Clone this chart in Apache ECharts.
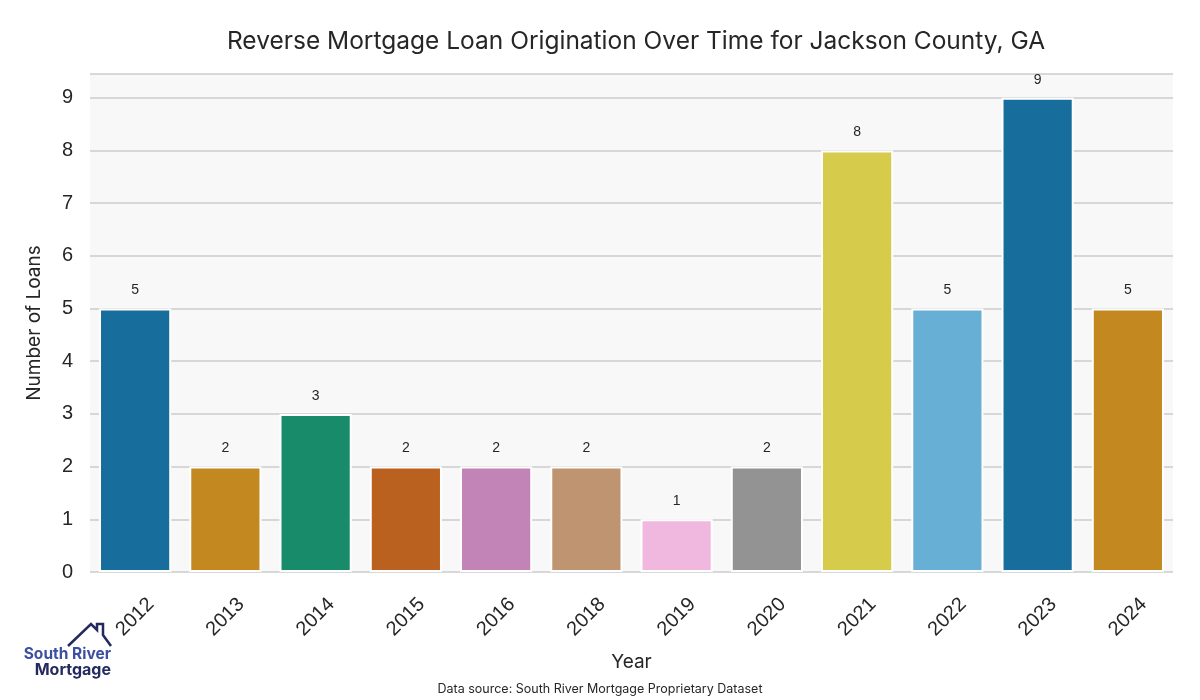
<!DOCTYPE html>
<html><head><meta charset="utf-8">
<script src="https://cdn.jsdelivr.net/npm/echarts@6/dist/echarts.min.js"></script>
<style>html,body{margin:0;padding:0;background:#fff}#c{width:1200px;height:700px}</style>
</head><body><div id="c"></div>
<script>
const years = ['2012','2013','2014','2015','2016','2018','2019','2020','2021','2022','2023','2024'];
const loans = [5,2,3,2,2,2,1,2,8,5,9,5];
const barColors = ['#176d9c','#c38820','#178b6a','#bb6120','#c283b6','#be9471','#f1b8df','#939393','#d6cb4b','#68afd6','#176d9c','#c38820'];
const yTicks = [0,1,2,3,4,5,6,7,8,9];

const chart = echarts.init(document.getElementById('c'), null, {renderer:'canvas'});
chart.setOption({
  backgroundColor:'#ffffff',
  animation:false,
  title:{
    text:'Reverse Mortgage Loan Origination Over Time for Jackson County, GA',
    left:631, top:24, textAlign:'center',
    textStyle:{fontFamily:'Inter', fontSize:24.5, fontWeight:'normal', color:'#262626'}
  },
  grid:{left:90, right:27, top:74, bottom:128, show:true, backgroundColor:'#f8f8f8', borderWidth:0},
  xAxis:{
    type:'category', data:years,
    name:'Year', nameLocation:'middle', nameGap:81,
    nameTextStyle:{fontFamily:'Inter', fontSize:19, color:'#262626'},
    axisLine:{show:false}, axisTick:{show:false},
    axisLabel:{rotate:45, align:'center', verticalAlign:'middle', margin:45, fontFamily:'Liberation Sans', fontSize:20, color:'#262626'}
  },
  yAxis:{
    type:'value', min:0, max:9.45, interval:1,
    name:'Number of Loans', nameLocation:'middle', nameGap:46,
    nameTextStyle:{fontFamily:'Inter', fontSize:19, color:'#262626'},
    axisLine:{show:false}, axisTick:{show:false},
    axisLabel:{fontFamily:'Liberation Sans', fontSize:20, color:'#262626', margin:17,
      formatter:v=> yTicks.includes(v)?String(v):''},
    splitLine:{lineStyle:{color:'#cccccc', width:1.5}}
  },
  series:[{
    type:'bar', barWidth:'80%',
    data:loans.map((v,i)=>({value:v, itemStyle:{color:barColors[i]}})),
    itemStyle:{borderColor:'#ffffff', borderWidth:2},
    label:{show:true, position:'top', distance:11, fontFamily:'Liberation Sans', fontSize:14, color:'#262626'}
  }],
  graphic:[
    {type:'polyline', shape:{points:[[68,646],[91,624],[97,630],[97,624],[103,624],[103,635],[111,646]]},
     style:{stroke:'#242a5e', lineWidth:2.5, fill:null}},
    {type:'text', style:{x:111, y:654, text:'South River', fontFamily:'Inter', fontWeight:'bold', fontSize:15.5, fill:'#3d4fa0', textAlign:'right', textVerticalAlign:'middle'}},
    {type:'text', style:{x:111, y:670, text:'Mortgage', fontFamily:'Inter', fontWeight:'bold', fontSize:16, fill:'#242a5e', textAlign:'right', textVerticalAlign:'middle'}},
    {type:'text', style:{x:600, y:689, text:'Data source: South River Mortgage Proprietary Dataset', fontFamily:'Inter', fontSize:12.5, fill:'#262626', textAlign:'center', textVerticalAlign:'middle'}}
  ]
});
</script></body></html>
